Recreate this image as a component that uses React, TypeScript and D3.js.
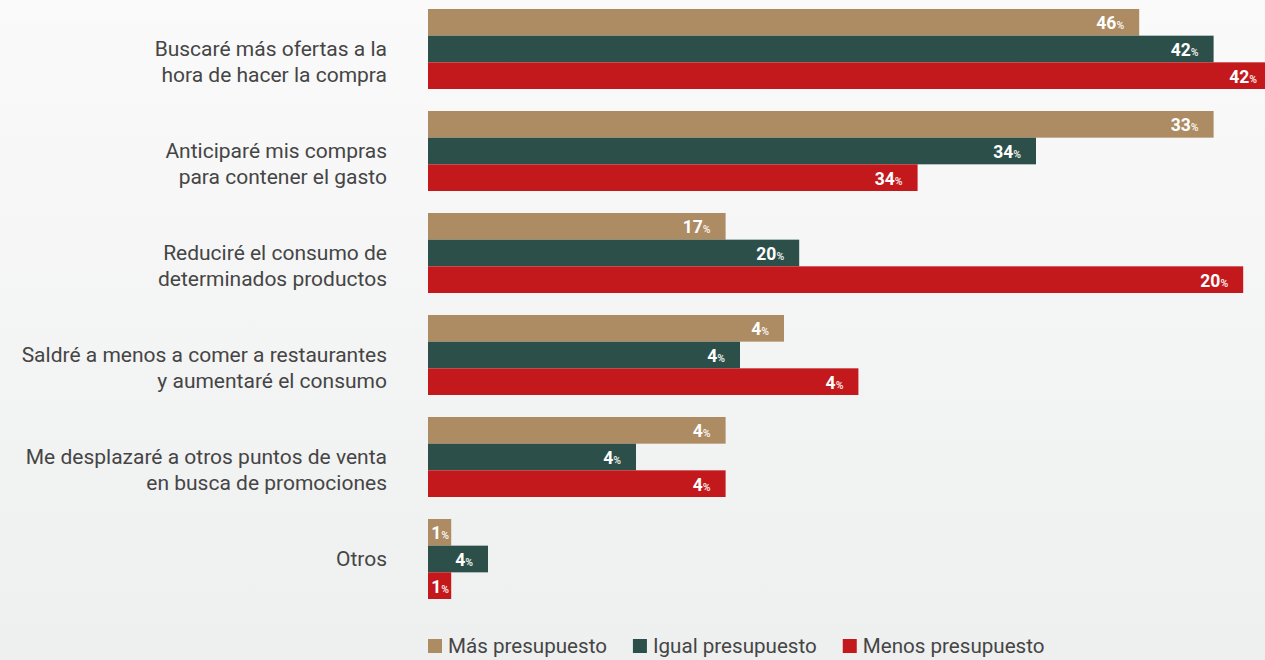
import React, { useEffect, useRef } from "react";
import * as d3 from "d3";

const categories = [
  "Buscaré más ofertas a la\nhora de hacer la compra",
  "Anticiparé mis compras\npara contener el gasto",
  "Reduciré el consumo de\ndeterminados productos",
  "Saldré a menos a comer a restaurantes\ny aumentaré el consumo",
  "Me desplazaré a otros puntos de venta\nen busca de promociones",
  "Otros",
];

const seriesNames = ["Más presupuesto", "Igual presupuesto", "Menos presupuesto"];
const seriesColors = ["#AD8B63", "#2D4F4A", "#C4191C"];

// bar lengths as drawn (relative units)
const masBars = [88.9, 98.2, 37.2, 44.5, 37.2, 2.9];
const igualBars = [98.2, 76.0, 46.4, 39.0, 26.0, 7.5];
const menosBars = [105.5, 61.2, 101.9, 53.8, 37.2, 2.9];

// printed labels
const masLabels = [46, 33, 17, 4, 4, 1];
const igualLabels = [42, 34, 20, 4, 4, 4];
const menosLabels = [42, 34, 20, 4, 4, 1];

const W = 1265;
const H = 660;
const FONT = "Roboto, 'Noto Sans', sans-serif";

export default function App() {
  const ref = useRef<SVGSVGElement>(null);

  useEffect(() => {
    const svg = d3.select(ref.current);
    svg.selectAll("*").remove();

    const defs = svg.append("defs");
    const grad = defs
      .append("linearGradient")
      .attr("id", "bg")
      .attr("x1", 0)
      .attr("y1", 0)
      .attr("x2", 0)
      .attr("y2", 1);
    grad.append("stop").attr("offset", "0%").attr("stop-color", "#fafafa");
    grad.append("stop").attr("offset", "100%").attr("stop-color", "#eeefef");
    svg.append("rect").attr("width", W).attr("height", H).attr("fill", "url(#bg)");

    const bars = [masBars, igualBars, menosBars];
    const labels = [masLabels, igualLabels, menosLabels];

    const y = d3
      .scaleBand<string>()
      .domain(categories)
      .range([9, 9 + 5 * 102 + 80])
      .paddingInner(22 / 102)
      .paddingOuter(0);

    const ySub = d3
      .scaleBand<number>()
      .domain([0, 1, 2])
      .range([0, y.bandwidth()])
      .padding(0);

    const x = d3.scaleLinear().domain([0, 100]).range([428, 1228]);

    const g = svg.append("g");

    categories.forEach((cat, ci) => {
      const gy = y(cat)!;
      const lines = cat.split("\n");
      const t = g
        .append("text")
        .attr("text-anchor", "end")
        .attr("font-family", FONT)
        .attr("font-size", 21)
        .attr("fill", "#454545");
      lines.forEach((ln, li) => {
        t.append("tspan")
          .attr("x", 387)
          .attr("y", gy + 47 + li * 26)
          .text(ln);
      });

      bars.forEach((vals, si) => {
        const by = gy + ySub(si)!;
        const bh = ySub.bandwidth();
        g.append("rect")
          .attr("x", x(0))
          .attr("y", by)
          .attr("width", x(vals[ci]) - x(0))
          .attr("height", bh)
          .attr("fill", seriesColors[si]);
        const end = x(vals[ci]);
        const tx = Math.max(end - 15, x(0) + 21);
        const vt = g
          .append("text")
          .attr("x", tx)
          .attr("y", by + bh / 2 + 7)
          .attr("text-anchor", "end")
          .attr("font-family", FONT)
          .attr("font-weight", 700)
          .attr("fill", "#ffffff");
        vt.append("tspan").attr("font-size", 17.5).text(String(labels[si][ci]));
        vt.append("tspan").attr("font-size", 10.5).attr("opacity", 0.85).text("%");
      });
    });

    // legend
    const lg = svg.append("g");
    let lx = 428;
    seriesNames.forEach((name, i) => {
      lg.append("rect")
        .attr("x", lx)
        .attr("y", 639)
        .attr("width", 14)
        .attr("height", 14)
        .attr("fill", seriesColors[i]);
      const t = lg
        .append("text")
        .attr("x", lx + 20)
        .attr("y", 652.5)
        .attr("font-family", FONT)
        .attr("font-size", 20.6)
        .attr("fill", "#454545")
        .text(name);
      const w = (t.node() as SVGTextElement).getComputedTextLength();
      lx = lx + 20 + w + 26;
    });
  }, []);

  return (
    <svg
      ref={ref}
      width={W}
      height={H}
      style={{ position: "absolute", left: 0, top: 0, display: "block" }}
    />
  );
}
